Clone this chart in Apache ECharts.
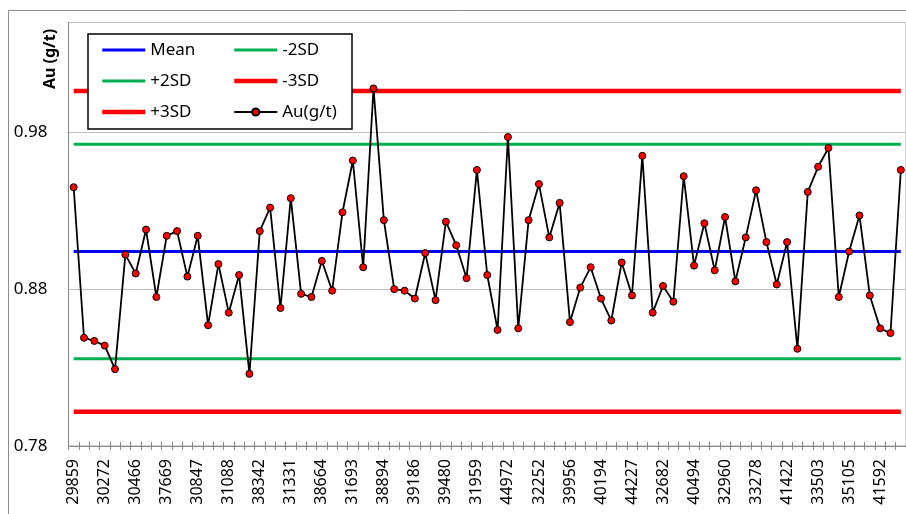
<!DOCTYPE html>
<html>
<head>
<meta charset="utf-8">
<script src="https://cdn.jsdelivr.net/npm/echarts@6/dist/echarts.min.js"></script>
<style>
  html, body { margin: 0; padding: 0; background: #fff; }
  #chart { width: 906px; height: 514px; }
</style>
</head>
<body>
<div id="chart"></div>
<script>
// sample ids shown on the x axis (every third sample is labelled)
const sampleLabels = ['29859', '30272', '30466', '37669', '30847', '31088', '38342', '31331', '38664',
  '31693', '38894', '39186', '39480', '31959', '44972', '32252', '39956', '40194', '44227', '32682',
  '40494', '32960', '33278', '41422', '33503', '35105', '41592']

// Au (g/t) of every sample, in order
const auValues = [0.945, 0.849, 0.847, 0.844, 0.829, 0.902, 0.890, 0.918, 0.875, 0.914,
  0.917, 0.888, 0.914, 0.857, 0.896, 0.865, 0.889, 0.826, 0.917, 0.932,
  0.868, 0.938, 0.877, 0.875, 0.898, 0.879, 0.929, 0.962, 0.894, 1.008,
  0.924, 0.880, 0.879, 0.874, 0.903, 0.873, 0.923, 0.908, 0.887, 0.956,
  0.889, 0.854, 0.977, 0.855, 0.924, 0.947, 0.913, 0.935, 0.859, 0.881,
  0.894, 0.874, 0.860, 0.897, 0.876, 0.965, 0.865, 0.882, 0.872, 0.952,
  0.895, 0.922, 0.892, 0.926, 0.885, 0.913, 0.943, 0.910, 0.883, 0.910,
  0.842, 0.942, 0.958, 0.970, 0.875, 0.904, 0.927, 0.876, 0.855, 0.852,
  0.956]

// control lines
const limitNames = ['Mean', '+2SD', '-2SD', '+3SD', '-3SD']
const limitValues = [0.904, 0.9724, 0.8357, 1.0064, 0.8018]
const limitColors = ['#0000ff', '#00b050', '#00b050', '#ff0000', '#ff0000']
const limitWidths = [3, 3, 3, 4.5, 4.5]

const yTicks = [0.78, 0.88, 0.98]

const chart = echarts.init(document.getElementById('chart'))
const lastIdx = auValues.length - 1
const cats = auValues.map((v, i) => i)
const font = 'Noto Sans'

const limitSeries = limitNames.map((name, k) => ({
  name,
  type: 'line',
  data: [[0, limitValues[k]], [lastIdx, limitValues[k]]],
  symbol: 'none',
  lineStyle: { color: limitColors[k], width: limitWidths[k] },
  itemStyle: { color: limitColors[k] },
  z: 2
}))

const legendItem = (name) => {
  const k = limitNames.indexOf(name)
  if (k < 0) return { name, lineStyle: { width: 2 } }
  return { name, itemStyle: { opacity: 0 }, lineStyle: { width: limitWidths[k] } }
}

const legendText = { fontFamily: font, fontSize: 17, color: '#000', lineHeight: 20 }
const legendBase = {
  orient: 'vertical',
  top: 40,
  padding: 0,
  itemWidth: 43,
  itemHeight: 9,
  itemGap: 11,
  z: 10,
  textStyle: legendText
}

const option = {
  animation: false,
  backgroundColor: '#fff',
  grid: [
    { left: 68.5, right: -2.5, top: 22.5, bottom: 68, show: true, borderColor: '#a6a6a6', borderWidth: 1 },
    { left: 68.5, right: -2.5, top: 22.5, bottom: 68 }
  ],
  xAxis: [{
    type: 'category',
    data: cats,
    boundaryGap: true,
    axisLine: { lineStyle: { color: '#868686', width: 1 } },
    axisTick: { show: true, interval: 0, length: 4, lineStyle: { color: '#868686' } },
    axisLabel: {
      interval: 0,
      rotate: 90,
      margin: 13,
      fontFamily: font,
      fontSize: 16,
      color: '#000',
      formatter: (v, i) => (i % 3 === 0 ? sampleLabels[i / 3] : '')
    },
    splitLine: { show: false }
  }, {
    type: 'category',
    gridIndex: 1,
    data: cats,
    boundaryGap: true,
    axisLine: { show: false },
    axisTick: { show: true, inside: true, interval: 0, length: 4, lineStyle: { color: '#868686' } },
    axisLabel: { show: false }
  }],
  yAxis: [{
    type: 'value',
    min: yTicks[0],
    max: 1.05,
    interval: 0.1,
    axisLine: { show: true, lineStyle: { color: '#868686', width: 1 } },
    axisTick: { show: false },
    axisLabel: {
      margin: 21,
      fontFamily: font,
      fontSize: 17,
      color: '#000',
      showMaxLabel: false,
      formatter: v => (yTicks.some(t => Math.abs(t - v) < 1e-6) ? v.toFixed(2) : '')
    },
    splitLine: { show: true, lineStyle: { color: '#bfbfbf', width: 1 } }
  }, {
    type: 'value',
    gridIndex: 1,
    min: yTicks[0],
    max: 1.05,
    show: false
  }],
  legend: [
    Object.assign({}, legendBase, { left: 100, data: ['Mean', '+2SD', '+3SD'].map(legendItem) }),
    Object.assign({}, legendBase, { left: 232, data: ['-2SD', '-3SD', 'Au(g/t)'].map(legendItem) })
  ],
  graphic: [
    { type: 'rect', z: 0, shape: { x: 8.5, y: 10.5, width: 1000, height: 600 },
      style: { fill: null, stroke: '#8c8c8c', lineWidth: 1 } },
    { type: 'rect', z: 5, shape: { x: 88, y: 34, width: 264, height: 95 },
      style: { fill: '#fff', stroke: '#000', lineWidth: 1.5 } },
    { type: 'text', z: 5, x: 50, y: 59, rotation: Math.PI / 2,
      style: { text: 'Au (g/t)', font: 'bold 16px "Noto Sans"', fill: '#000', align: 'center', verticalAlign: 'middle' } }
  ],
  series: limitSeries.concat([{
    name: 'Au(g/t)',
    type: 'line',
    data: auValues,
    symbol: 'circle',
    symbolSize: 7,
    lineStyle: { color: '#000', width: 1.8 },
    itemStyle: { color: '#ff0000', borderColor: '#000', borderWidth: 1 },
    z: 3
  }])
}

chart.setOption(option)
</script>
</body>
</html>
